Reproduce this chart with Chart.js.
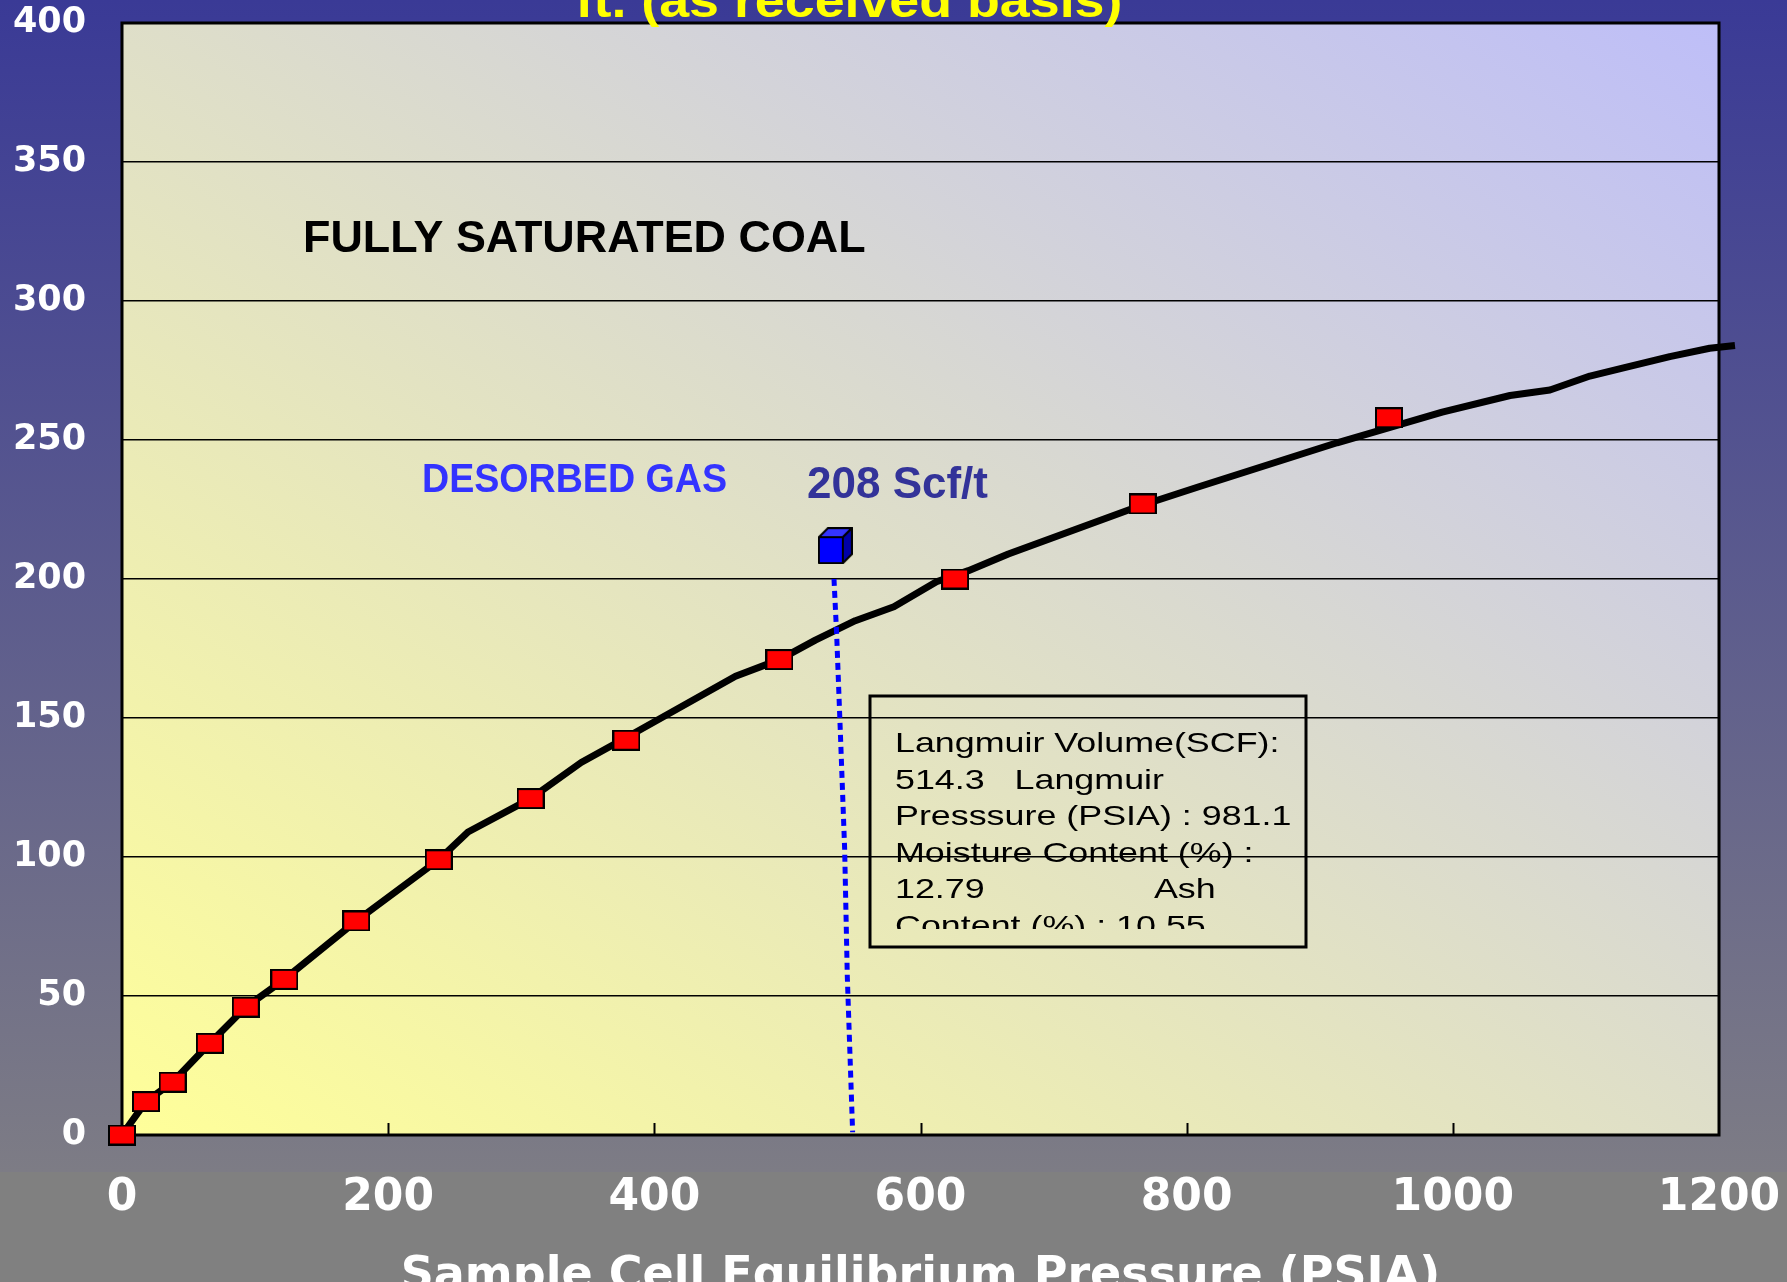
<!DOCTYPE html>
<html>
<head>
<meta charset="utf-8">
<title>Fully saturated coal isotherm</title>
<script src="https://cdn.jsdelivr.net/npm/chart.js@4.4.0/dist/chart.umd.min.js"></script>
<style>
  html, body { margin: 0; padding: 0; background: #808080; }
  #wrap { width: 1787px; height: 1282px; }
</style>
</head>
<body>
<div id="wrap"><canvas id="isoChart" width="1787" height="1282"></canvas></div>
<script>
// measured isotherm points (red boxes)
const sampleP = [0, 18, 38, 66, 93, 122, 176, 238, 307, 379, 494, 626, 767, 952];
const sampleV = [0, 12, 19, 33, 46, 56, 77, 99, 121, 142, 171, 200, 227, 258];

// Langmuir fit line as drawn
const curveP = [0, 18, 38, 66, 93, 122, 176, 238, 260, 307, 345, 379, 461, 494, 521, 551, 580, 612, 636, 666, 763, 808, 913, 992, 1043, 1073, 1103, 1129, 1163, 1193, 1212];
const curveV = [0, 12, 19, 33, 46, 56, 77, 99, 109, 121, 134, 143, 165, 171, 178, 185, 190, 199, 203, 209, 226, 233, 249, 260, 266, 268, 273, 276, 280, 283, 284];

// desorbed gas point (blue cube) and dotted drop line
const desorbedP = [536];
const desorbedV = [212];
const dropP = [535, 537, 540, 543, 545, 549];
const dropV = [200, 180, 142, 103, 57, 1];

const xTicks = [0, 200, 400, 600, 800, 1000, 1200];
const yTicks = [0, 50, 100, 150, 200, 250, 300, 350, 400];

const titleTail = 'ft. (as received basis)';
const xTitle = 'Sample Cell Equilibrium Pressure (PSIA)';
const boxLines = [
    'Langmuir Volume(SCF):',
    '514.3   Langmuir',
    'Presssure (PSIA) : 981.1',
    'Moisture Content (%) :',
    '12.79                 Ash',
    'Content (%) : 10.55'
];

const pts = (xs, ys) => xs.map((x, i) => ({ x: x, y: ys[i] }));

function makeRedBox() {
    const c = document.createElement('canvas');
    c.width = 28; c.height = 21;
    const g = c.getContext('2d');
    g.fillStyle = '#000';
    g.fillRect(0, 0, 28, 21);
    g.fillStyle = '#ff0000';
    g.fillRect(2, 2, 24, 17);
    return c;
}

function makeCube() {
    const c = document.createElement('canvas');
    c.width = 35; c.height = 37;
    const g = c.getContext('2d');
    g.lineWidth = 2;
    g.strokeStyle = '#000';
    g.lineJoin = 'round';
    // top
    g.fillStyle = '#3535ff';
    g.beginPath();
    g.moveTo(1, 10); g.lineTo(10, 1); g.lineTo(34, 1); g.lineTo(25, 10); g.closePath();
    g.fill(); g.stroke();
    // side
    g.fillStyle = '#0000a8';
    g.beginPath();
    g.moveTo(25, 10); g.lineTo(34, 1); g.lineTo(34, 27); g.lineTo(25, 36); g.closePath();
    g.fill(); g.stroke();
    // front
    g.fillStyle = '#0000ff';
    g.fillRect(1, 10, 24, 26);
    g.strokeRect(1, 10, 24, 26);
    return c;
}

function drawText(ctx, text, x, y, font, color, sx, align) {
    ctx.save();
    ctx.font = font;
    ctx.fillStyle = color;
    ctx.textBaseline = 'alphabetic';
    ctx.textAlign = align || 'left';
    ctx.translate(x, y);
    ctx.scale(sx || 1, 1);
    ctx.fillText(text, 0, 0);
    ctx.restore();
}

const decor = {
    id: 'decor',
    beforeDraw(chart) {
        const ctx = chart.ctx;
        const a = chart.chartArea;
        ctx.save();
        // page background
        const bg = ctx.createLinearGradient(0, 0, 0, 1172);
        bg.addColorStop(0, '#3a3a96');
        bg.addColorStop(1, '#7d7c85');
        ctx.fillStyle = bg;
        ctx.fillRect(0, 0, chart.width, 1172);
        ctx.fillStyle = '#808080';
        ctx.fillRect(0, 1172, chart.width, chart.height - 1172);
        // plot area, yellow bottom-left to lavender top-right
        ctx.translate(a.left, a.top);
        ctx.scale(a.right - a.left, a.bottom - a.top);
        const pg = ctx.createLinearGradient(0, 1, 1, 0);
        pg.addColorStop(0, '#ffff99');
        pg.addColorStop(1, '#bebef8');
        ctx.fillStyle = pg;
        ctx.fillRect(0, 0, 1, 1);
        ctx.restore();
    },
    beforeDatasetsDraw(chart) {
        const ctx = chart.ctx;
        const a = chart.chartArea;
        const xs = chart.scales.x;
        ctx.save();
        // small tick marks pointing up into the plot
        ctx.strokeStyle = '#000';
        ctx.lineWidth = 2;
        xTicks.slice(1, -1).forEach(v => {
            const px = Math.round(xs.getPixelForValue(v)) + 0.5;
            ctx.beginPath();
            ctx.moveTo(px, a.bottom);
            ctx.lineTo(px, a.bottom - 12);
            ctx.stroke();
        });
        // frame
        ctx.lineWidth = 3;
        ctx.strokeRect(a.left, a.top, a.right - a.left, a.bottom - a.top);
        ctx.restore();
    },
    afterDraw(chart) {
        const ctx = chart.ctx;
        drawText(ctx, titleTail, 849, 17, 'bold 48px "Liberation Sans", Arial, sans-serif', '#ffff00', 1.12, 'center');
        drawText(ctx, 'FULLY SATURATED COAL', 303, 252, 'bold 44px "Liberation Sans", Arial, sans-serif', '#000', 1.02);
        drawText(ctx, 'DESORBED GAS', 422, 492, 'bold 40px "Liberation Sans", Arial, sans-serif', '#3333ff', 0.94);
        drawText(ctx, '208 Scf/t', 807, 498, 'bold 44px "Liberation Sans", Arial, sans-serif', '#333399', 1);

        // info box
        ctx.save();
        ctx.strokeStyle = '#000';
        ctx.lineWidth = 3;
        ctx.strokeRect(870, 696, 436, 251);
        ctx.beginPath();
        ctx.rect(872, 698, 432, 231);
        ctx.clip();
        boxLines.forEach((line, i) => {
            drawText(ctx, line, 895, 752 + i * 36.5, '28px "Liberation Sans", Arial, sans-serif', '#000', 1.28);
        });
        ctx.restore();
    }
};

const ctx = document.getElementById('isoChart').getContext('2d');
const tickFont = (size) => ({ family: '"DejaVu Sans", sans-serif', weight: 'bold', size: size });

new Chart(ctx, {
    type: 'scatter',
    data: {
        datasets: [
            {
                label: 'Measured',
                data: pts(sampleP, sampleV),
                pointStyle: makeRedBox(),
                pointRadius: 12,
                showLine: false,
                clip: false,
                order: 0
            },
            {
                label: 'Desorbed gas',
                data: pts(desorbedP, desorbedV),
                pointStyle: makeCube(),
                pointRadius: 16,
                showLine: false,
                clip: false,
                order: 1
            },
            {
                label: 'Desorbed drop',
                data: pts(dropP, dropV),
                showLine: true,
                borderColor: '#0000ff',
                borderWidth: 5,
                borderDash: [7, 5],
                pointRadius: 0,
                clip: false,
                order: 2
            },
            {
                label: 'Langmuir fit',
                data: pts(curveP, curveV),
                showLine: true,
                borderColor: '#000',
                borderWidth: 7,
                borderJoinStyle: 'round',
                pointRadius: 0,
                clip: false,
                order: 3
            }
        ]
    },
    options: {
        responsive: false,
        animation: false,
        layout: { autoPadding: false, padding: 0 },
        plugins: {
            legend: { display: false },
            tooltip: { enabled: false }
        },
        scales: {
            x: {
                type: 'linear',
                min: 0,
                max: 1200,
                afterBuildTicks: s => { s.ticks = xTicks.map(v => ({ value: v })); },
                afterFit: s => {
                    s.height = 147;
                    s.paddingLeft = 0;
                    s.paddingRight = 68;
                },
                ticks: { color: '#fff', font: tickFont(44), padding: 37, maxRotation: 0, callback: v => String(v) },
                grid: { display: false, drawTicks: false },
                border: { display: false },
                title: {
                    display: true,
                    text: xTitle,
                    color: '#fff',
                    font: { family: '"DejaVu Sans", sans-serif', weight: 'bold', size: 46, lineHeight: 0.2 },
                    padding: 0
                }
            },
            y: {
                type: 'linear',
                min: 0,
                max: 400,
                afterBuildTicks: s => { s.ticks = yTicks.map(v => ({ value: v })); },
                afterFit: s => {
                    s.width = 122;
                    s.paddingTop = 23;
                    s.paddingBottom = 0;
                },
                ticks: { color: '#fff', font: tickFont(35), padding: 36, callback: v => String(v) },
                grid: { color: '#000', lineWidth: 1.6, drawTicks: false },
                border: { display: false }
            }
        }
    },
    plugins: [decor]
});
</script>
</body>
</html>
